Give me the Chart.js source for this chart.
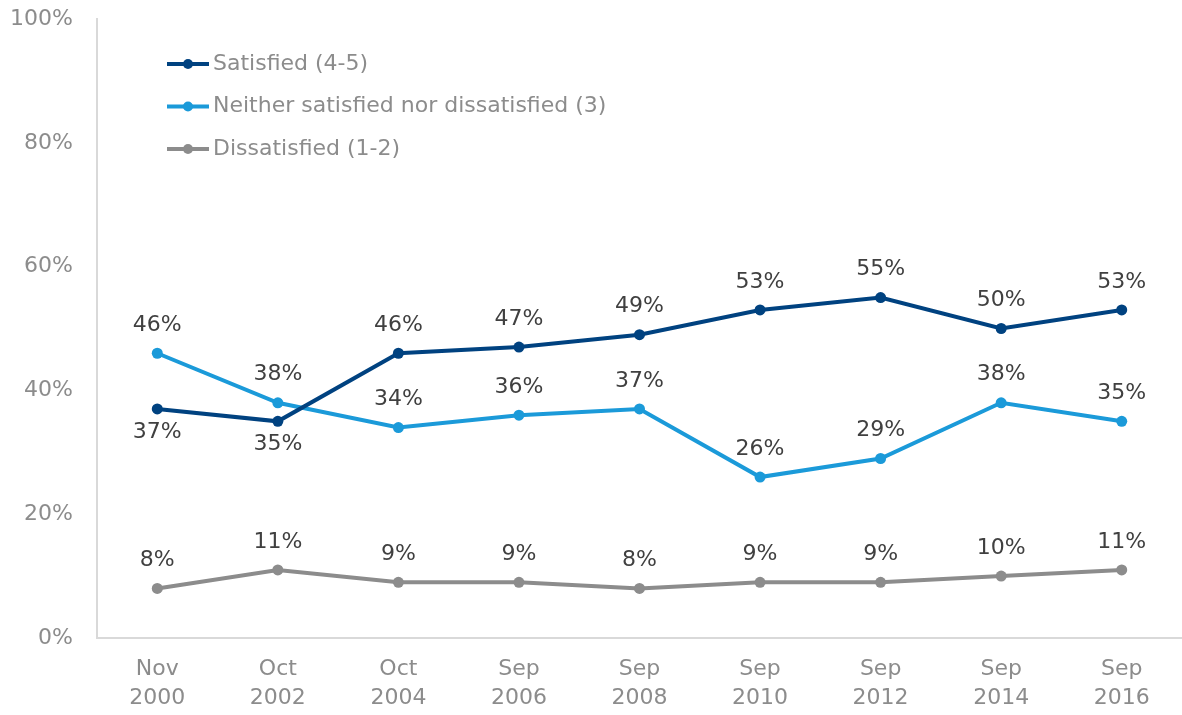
<!DOCTYPE html>
<html>
<head>
<meta charset="utf-8">
<script src="https://cdn.jsdelivr.net/npm/chart.js@4.4.1/dist/chart.umd.min.js"></script>
<style>
  html, body { margin: 0; padding: 0; background: #fff; }
  #wrap { width: 1182px; height: 715px; }
</style>
</head>
<body>
<div id="wrap"><canvas id="chart" width="1182" height="715"></canvas></div>
<script>
// datos
const labels = [['Nov', '2000'], ['Oct', '2002'], ['Oct', '2004'], ['Sep', '2006'], ['Sep', '2008'],
                ['Sep', '2010'], ['Sep', '2012'], ['Sep', '2014'], ['Sep', '2016']];
const satisfied = [37, 35, 46, 47, 49, 53, 55, 50, 53];
const neither = [46, 38, 34, 36, 37, 26, 29, 38, 35];
const dissatisfied = [8, 11, 9, 9, 8, 9, 9, 10, 11];
const seriesNames = ['Satisfied (4-5)', 'Neither satisfied nor dissatisfied (3)', 'Dissatisfied (1-2)'];
const yTicks = [0, 20, 40, 60, 80, 100];

const FONT = '"DejaVu Sans", "Open Sans", sans-serif';
const SIZE = 22;

// etiquetas de datos: arriba salvo los dos primeros puntos de "Satisfied"
const labelsPlugin = {
    id: 'pointLabels',
    afterDatasetsDraw(chart) {
        const ctx = chart.ctx;
        ctx.save();
        ctx.font = SIZE + 'px ' + FONT;
        ctx.fillStyle = '#404040';
        ctx.textAlign = 'center';
        ctx.textBaseline = 'middle';
        chart.data.datasets.forEach((ds, i) => {
            const meta = chart.getDatasetMeta(i);
            meta.data.forEach((pt, j) => {
                const below = (i === 0 && j < 2);
                const y = below ? pt.y + 23 : pt.y - 28;
                ctx.fillText(ds.data[j] + '%', pt.x, y);
            });
        });
        ctx.restore();
    }
};

// leyenda con línea y punto, dentro del área
const legendPlugin = {
    id: 'lineLegend',
    afterDraw(chart) {
        const ctx = chart.ctx;
        ctx.save();
        ctx.font = SIZE + 'px ' + FONT;
        ctx.textBaseline = 'middle';
        chart.data.datasets.forEach((ds, i) => {
            const y = 64 + i * 42.5;
            ctx.strokeStyle = ds.borderColor;
            ctx.lineWidth = 4;
            ctx.beginPath();
            ctx.moveTo(167, y);
            ctx.lineTo(209, y);
            ctx.stroke();
            ctx.fillStyle = ds.borderColor;
            ctx.beginPath();
            ctx.arc(188, y, 5, 0, Math.PI * 2);
            ctx.fill();
            ctx.fillStyle = '#8c8c8c';
            ctx.fillText(ds.label, 213, y);
        });
        ctx.restore();
    }
};

function makeSet(name, data, color) {
    return {
        label: name,
        data: data,
        borderColor: color,
        backgroundColor: color,
        borderWidth: 4,
        pointRadius: 5.5,
        pointBorderWidth: 0,
        pointHoverRadius: 5.5,
        tension: 0
    };
}

new Chart(document.getElementById('chart'), {
    type: 'line',
    data: {
        labels: labels,
        datasets: [
            makeSet(seriesNames[0], satisfied, '#004280'),
            makeSet(seriesNames[1], neither, '#1b9ad9'),
            makeSet(seriesNames[2], dissatisfied, '#8c8c8c')
        ]
    },
    options: {
        responsive: false,
        animation: false,
        // autoPadding reservaba espacio a la derecha para los puntos
        layout: { autoPadding: false, padding: { top: 19, right: -1, left: 0, bottom: 0 } },
        plugins: { legend: { display: false }, tooltip: { enabled: false } },
        scales: {
            x: {
                offset: true,
                grid: { display: false, drawTicks: false },
                border: { display: true, color: '#d9d9d9', width: 2 },
                ticks: { color: '#8c8c8c', font: { family: FONT, size: SIZE, lineHeight: 1.32 }, padding: 17, maxRotation: 0 },
                afterFit(scale) {
                    scale.height = 77;
                    scale.paddingLeft = 0;
                    scale.paddingRight = 0;
                }
            },
            y: {
                min: 0,
                max: 100,
                afterBuildTicks(scale) { scale.ticks = yTicks.map(v => ({ value: v })); },
                grid: { display: false, drawTicks: false },
                border: { display: true, color: '#d9d9d9', width: 2 },
                ticks: { color: '#8c8c8c', font: { family: FONT, size: SIZE }, padding: 24, callback: v => v + '%' },
                afterFit(scale) {
                    scale.width = 97;
                    scale.paddingTop = 0;
                    scale.paddingBottom = 0;
                }
            }
        }
    },
    plugins: [labelsPlugin, legendPlugin]
});
</script>
</body>
</html>
